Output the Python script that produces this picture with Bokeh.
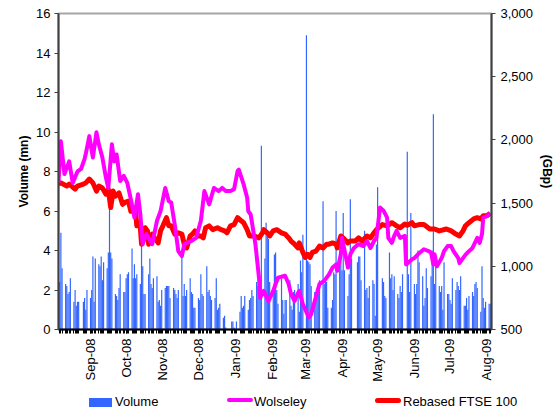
import math
import pandas as pd
from bokeh.plotting import figure
from bokeh.layouts import column
from bokeh.models import (Range1d, LinearAxis, FixedTicker, NumeralTickFormatter,
                          DatetimeTickFormatter, Div)
from bokeh.embed import file_html
from bokeh.resources import INLINE

# ---------------- data ----------------
# Daily traded volume (mn shares), per month of trading days
vol_aug08 = [2.4, 4.9, 3.1, 2.3, 2.2, 1.8, 1.9, 2.6, 1.4, 2.0, 1.2, 1.4, 1.4, 1.4, 1.6, 1.0, 2.0]
vol_sep08 = [1.6, 2.0, 3.7, 1.4, 3.6, 3.3, 3.2, 3.7, 2.5, 3.4, 3.1, 3.9, 6.1, 3.9, 3.6, 1.8, 1.7, 1.5, 2.1, 2.8, 1.9, 1.9]
vol_oct08 = [2.6, 2.8, 2.9, 4.1, 2.6, 3.3, 2.6, 2.8, 2.3, 5.0, 3.2, 1.8, 1.8, 2.8, 3.6, 2.3, 2.1, 2.6, 2.7, 1.4, 1.5, 1.2, 2.0]
vol_nov08 = [2.1, 2.2, 2.2, 2.2, 1.6, 2.1, 2.0, 1.8, 1.6, 2.0, 3.9, 1.7, 2.3, 1.7, 2.0, 2.6, 1.9, 1.8, 1.1, 1.1]
vol_dec08 = [1.6, 1.5, 2.8, 1.8, 1.7, 3.2, 1.9, 2.0, 1.7, 1.5, 1.6, 2.6, 1.0, 1.1, 1.3, 0.6, 0.7, 0.1, 0.4, 0.4, 0.1]
vol_jan09 = [0.4, 0.9, 1.7, 1.1, 1.2, 1.7, 1.0, 1.5, 1.6, 2.0, 1.7, 2.4, 2.2, 2.4, 2.2, 9.3, 3.6, 5.4, 4.7, 4.6, 2.4]
vol_feb09 = [1.9, 3.8, 3.9, 2.0, 1.3, 2.6, 1.5, 0.8, 1.5, 1.5, 2.5, 1.2, 1.0, 1.9, 2.0, 2.3, 0.9, 3.5, 2.9, 4.8]
vol_mar09 = [14.9, 3.5, 3.4, 3.3, 2.2, 1.9, 1.6, 2.0, 2.1, 2.5, 6.5, 2.3, 2.6, 2.4, 1.1, 1.1, 1.5, 2.9, 2.8, 6.0, 3.6, 4.8]
vol_apr09 = [3.0, 5.9, 3.0, 1.7, 2.8, 6.6, 3.6, 3.4, 3.7, 3.7, 2.5, 5.0, 2.0, 2.1, 1.6, 2.2, 2.5, 2.3, 0.7, 4.3]
vol_may09 = [7.2, 2.6, 2.4, 1.7, 1.6, 3.9, 2.6, 2.8, 2.0, 2.7, 1.8, 1.6, 2.2, 1.9, 2.8, 9.0, 2.8, 1.9, 5.9]
vol_jun09 = [2.3, 1.8, 2.3, 4.0, 3.4, 2.7, 1.2, 1.6, 3.1, 2.1, 2.7, 4.0, 10.9, 2.3, 3.2, 2.2, 1.9, 2.2, 1.0, 3.4, 1.8, 1.8]
vol_jul09 = [1.5, 1.3, 2.6, 2.0, 2.4, 2.2, 2.0, 2.7, 1.2, 1.2, 1.6, 1.0, 1.7, 1.9, 1.7, 2.3, 2.4, 2.1, 0.9, 3.2, 1.6, 1.1, 1.4]
vol_aug09 = [1.3, 1.3]

# UK market holidays in the period
holidays = ["2008-08-25", "2008-12-25", "2008-12-26", "2009-01-01",
            "2009-04-10", "2009-04-13", "2009-05-04", "2009-05-25"]

# Wolseley share price (GBp)
wol_dates = ["2008-08-05", "2008-08-07", "2008-08-10", "2008-08-14", "2008-08-17", "2008-08-21", "2008-08-24",
             "2008-08-27", "2008-08-28", "2008-08-31", "2008-09-03", "2008-09-06", "2008-09-08", "2008-09-11",
             "2008-09-14", "2008-09-16", "2008-09-19", "2008-09-21", "2008-09-23", "2008-09-26", "2008-09-29",
             "2008-10-02", "2008-10-05", "2008-10-08", "2008-10-11", "2008-10-13", "2008-10-15", "2008-10-18",
             "2008-10-23", "2008-10-27", "2008-10-30", "2008-11-03", "2008-11-06", "2008-11-08", "2008-11-11",
             "2008-11-14", "2008-11-17", "2008-11-19", "2008-11-25", "2008-11-29", "2008-12-03", "2008-12-06",
             "2008-12-10", "2008-12-14", "2008-12-18", "2008-12-21", "2008-12-24", "2008-12-28", "2008-12-31",
             "2009-01-03", "2009-01-04", "2009-01-08", "2009-01-11", "2009-01-12", "2009-01-14", "2009-01-18",
             "2009-01-21", "2009-01-22", "2009-01-25", "2009-01-29", "2009-02-02", "2009-02-04", "2009-02-06",
             "2009-02-12", "2009-02-15", "2009-02-17", "2009-02-20", "2009-02-23", "2009-02-24", "2009-02-27",
             "2009-03-04", "2009-03-06", "2009-03-09", "2009-03-13", "2009-03-17", "2009-03-21", "2009-03-24",
             "2009-03-27", "2009-03-28", "2009-03-31", "2009-04-01", "2009-04-06", "2009-04-08", "2009-04-11",
             "2009-04-15", "2009-04-19", "2009-04-22", "2009-04-25", "2009-04-28", "2009-04-30", "2009-05-03",
             "2009-05-06", "2009-05-09", "2009-05-10", "2009-05-13", "2009-05-15", "2009-05-17", "2009-05-20",
             "2009-05-24", "2009-05-25", "2009-05-30", "2009-06-01", "2009-06-04", "2009-06-09", "2009-06-13",
             "2009-06-15", "2009-06-17", "2009-06-18", "2009-06-20", "2009-06-24", "2009-06-26", "2009-06-29",
             "2009-07-02", "2009-07-04", "2009-07-08", "2009-07-09", "2009-07-12", "2009-07-14", "2009-07-17",
             "2009-07-20", "2009-07-22", "2009-07-24", "2009-07-26", "2009-07-28", "2009-07-29", "2009-08-02",
             "2009-08-04"]
wol_px = [1660, 1990, 1730, 1830, 1660, 1750, 1770,
          1850, 1890, 2030, 1860, 2060, 1965, 1860,
          1700, 1620, 1965, 1830, 1885, 1675, 1715,
          1660, 1530, 1385, 1570, 1410, 1175, 1255,
          1175, 1360, 1435, 1620, 1515, 1505, 1330,
          1120, 1080, 1175, 1200, 1225, 1360, 1595,
          1490, 1620, 1595, 1620, 1595, 1595, 1610,
          1755, 1765, 1650, 1545, 1435, 1410, 1175,
          910, 750, 805, 725, 805, 860, 910,
          925, 860, 780, 725, 790, 805, 700,
          595, 620, 725, 860, 885, 935, 990,
          1015, 965, 1095, 1225, 990, 1095, 1145,
          1175, 1160, 1200, 1145, 1200, 1225, 1465,
          1440, 1385, 1225, 1185, 1240, 1280, 1225,
          1240, 1015, 1055, 1065, 1095, 1135, 1120,
          1110, 1015, 1095, 1000, 1065, 1120, 1160,
          1160, 1120, 1065, 1025, 1065, 1090, 1120,
          1145, 1185, 1225, 1185, 1255, 1385, 1400,
          1420]

# FTSE 100 rebased to Wolseley (GBp)
ftse_dates = ["2008-08-05", "2008-08-07", "2008-08-12", "2008-08-14", "2008-08-19", "2008-08-21", "2008-08-26",
              "2008-08-28", "2008-08-31", "2008-09-03", "2008-09-06", "2008-09-08", "2008-09-11", "2008-09-14",
              "2008-09-16", "2008-09-18", "2008-09-20", "2008-09-22", "2008-09-25", "2008-09-28", "2008-09-30",
              "2008-10-03", "2008-10-05", "2008-10-07", "2008-10-09", "2008-10-10", "2008-10-12", "2008-10-13",
              "2008-10-14", "2008-10-17", "2008-10-19", "2008-10-20", "2008-10-23", "2008-10-25", "2008-10-28",
              "2008-10-30", "2008-11-01", "2008-11-04", "2008-11-06", "2008-11-08", "2008-11-11", "2008-11-14",
              "2008-11-17", "2008-11-19", "2008-11-21", "2008-11-24", "2008-11-26", "2008-11-28", "2008-12-01",
              "2008-12-03", "2008-12-05", "2008-12-07", "2008-12-10", "2008-12-13", "2008-12-17", "2008-12-20",
              "2008-12-23", "2008-12-25", "2008-12-28", "2008-12-31", "2009-01-03", "2009-01-06", "2009-01-08",
              "2009-01-11", "2009-01-13", "2009-01-17", "2009-01-21", "2009-01-24", "2009-01-25", "2009-01-28",
              "2009-01-30", "2009-02-02", "2009-02-05", "2009-02-09", "2009-02-12", "2009-02-15", "2009-02-17",
              "2009-02-20", "2009-02-23", "2009-02-24", "2009-02-27", "2009-03-01", "2009-03-03", "2009-03-05",
              "2009-03-07", "2009-03-10", "2009-03-13", "2009-03-16", "2009-03-19", "2009-03-21", "2009-03-24",
              "2009-03-27", "2009-03-28", "2009-03-31", "2009-04-03", "2009-04-06", "2009-04-08", "2009-04-12",
              "2009-04-15", "2009-04-18", "2009-04-22", "2009-04-25", "2009-04-28", "2009-04-30", "2009-05-05",
              "2009-05-09", "2009-05-13", "2009-05-17", "2009-05-20", "2009-05-24", "2009-05-26", "2009-05-30",
              "2009-06-01", "2009-06-05", "2009-06-09", "2009-06-14", "2009-06-18", "2009-06-22", "2009-06-28",
              "2009-07-02", "2009-07-06", "2009-07-09", "2009-07-12", "2009-07-14", "2009-07-17", "2009-07-21",
              "2009-07-24", "2009-07-27", "2009-07-29", "2009-08-01", "2009-08-04"]
ftse_px = [1650, 1660, 1635, 1650, 1610, 1635, 1650,
           1660, 1690, 1660, 1595, 1635, 1620, 1570,
           1610, 1465, 1595, 1555, 1580, 1490, 1505,
           1515, 1435, 1465, 1435, 1320, 1345, 1305,
           1175, 1305, 1280, 1175, 1255, 1225, 1185,
           1280, 1320, 1385, 1320, 1320, 1255, 1265,
           1255, 1175, 1145, 1240, 1255, 1280, 1240,
           1240, 1225, 1305, 1320, 1290, 1305, 1290,
           1280, 1265, 1320, 1330, 1385, 1360, 1345,
           1290, 1240, 1240, 1225, 1265, 1290, 1265,
           1240, 1280, 1290, 1265, 1255, 1225, 1200,
           1175, 1145, 1185, 1110, 1070, 1095, 1070,
           1110, 1120, 1160, 1145, 1175, 1175, 1185,
           1175, 1145, 1240, 1215, 1185, 1200, 1200,
           1225, 1200, 1240, 1225, 1265, 1290, 1330,
           1320, 1345, 1320, 1305, 1335, 1325, 1345,
           1320, 1330, 1330, 1295, 1295, 1280, 1295,
           1280, 1255, 1240, 1280, 1320, 1345, 1375,
           1385, 1375, 1400, 1400, 1420]

month_ticks = ["2008-09-01", "2008-10-01", "2008-11-01", "2008-12-01", "2009-01-01", "2009-02-01",
               "2009-03-01", "2009-04-01", "2009-05-01", "2009-06-01", "2009-07-01", "2009-08-01"]
vol_ticks = [0, 2, 4, 6, 8, 10, 12, 14, 16]
px_ticks = [500, 1000, 1500, 2000, 2500, 3000]
series_names = ["Volume", "Wolseley", "Rebased FTSE 100"]

# ---------------- build ----------------
volume = (vol_aug08 + vol_sep08 + vol_oct08 + vol_nov08 + vol_dec08 + vol_jan09 + vol_feb09 +
          vol_mar09 + vol_apr09 + vol_may09 + vol_jun09 + vol_jul09 + vol_aug09)
days = [d for d in pd.bdate_range("2008-08-06", "2009-08-04") if d.strftime("%Y-%m-%d") not in holidays]
assert len(days) == len(volume), (len(days), len(volume))


def ms(d):
    return pd.Timestamp(d).value // 10**6


FONT = "Liberation Sans"
BLUE, MAGENTA, RED = "#3366FF", "#FF00FF", "#FF0000"

p = figure(width=557, height=390, x_axis_type="datetime", output_backend="svg", toolbar_location=None,
           x_range=Range1d(ms("2008-08-05"), ms("2009-08-05")), y_range=Range1d(0, 16),
           min_border_left=58, min_border_right=60, min_border_top=13, min_border_bottom=61,
           background_fill_color="white", border_fill_color="white")
p.xgrid.visible = False
p.ygrid.visible = False
p.outline_line_color = "#A6A6A6"
p.outline_line_width = 2

p.extra_y_ranges = {"px": Range1d(500, 3000)}

p.vbar(x=days, top=volume, width=1.0 * 86400000, fill_color=BLUE, line_color=None)
p.line(pd.to_datetime(ftse_dates), ftse_px, y_range_name="px", line_color=RED,
       line_width=5, line_join="round")
p.line(pd.to_datetime(wol_dates), wol_px, y_range_name="px", line_color=MAGENTA,
       line_width=4, line_join="round")

# x axis
xa = p.xaxis[0]
xa.ticker = FixedTicker(ticks=[ms(t) for t in month_ticks], minor_ticks=[ms(d) for d in days])
xa.formatter = DatetimeTickFormatter(days="%b-%y", months="%b-%y", years="%b-%y")
xa.major_label_orientation = math.pi / 2
xa.major_label_text_font = FONT
xa.major_label_text_font_size = "13px"
xa.major_label_text_color = "black"
xa.major_label_standoff = 5
xa.axis_line_color = "black"
xa.axis_line_width = 2
xa.major_tick_in = 0
xa.major_tick_out = 4
xa.minor_tick_in = 0
xa.minor_tick_out = 4
xa.major_tick_line_color = "black"
xa.minor_tick_line_color = "black"

# left axis
ya = p.yaxis[0]
ya.ticker = FixedTicker(ticks=vol_ticks)
ya.axis_label = "Volume (mn)"
ya.axis_label_text_font = FONT
ya.axis_label_text_font_style = "bold"
ya.axis_label_text_font_size = "12px"
ya.axis_label_text_color = "black"
ya.axis_label_standoff = 2
ya.major_label_text_font = FONT
ya.major_label_text_font_size = "13px"
ya.major_label_text_color = "black"
ya.major_label_standoff = 4
ya.axis_line_color = "#404040"
ya.axis_line_width = 2
ya.major_tick_in = 0
ya.major_tick_out = 4
ya.major_tick_line_color = "#404040"
ya.minor_tick_line_color = None

# right axis
ra = LinearAxis(y_range_name="px", ticker=FixedTicker(ticks=px_ticks),
                formatter=NumeralTickFormatter(format="0,0"), axis_label="(GBp)")
ra.axis_label_text_font = FONT
ra.axis_label_text_font_style = "bold"
ra.axis_label_text_font_size = "12px"
ra.axis_label_text_color = "black"
ra.axis_label_standoff = 4
ra.major_label_text_font = FONT
ra.major_label_text_font_size = "13px"
ra.major_label_text_color = "black"
ra.major_label_standoff = 5
ra.axis_line_color = "#404040"
ra.axis_line_width = 2
ra.major_tick_in = 0
ra.major_tick_out = 4
ra.major_tick_line_color = "#404040"
ra.minor_tick_line_color = None
p.add_layout(ra, "right")

# ---------------- legend (HTML strip under the chart) ----------------
swatch_style = [
    "left:89px;top:8px;width:23px;height:9px;",                     # bar swatch
    "left:227px;top:8px;width:26px;height:4px;border-radius:2px;",  # line swatch
    "left:375px;top:8px;width:26px;height:5px;border-radius:2.5px;",
]
label_left = [115, 254, 403]
swatch_colors = [BLUE, MAGENTA, RED]
parts = []
for name, col, sw, lx in zip(series_names, swatch_colors, swatch_style, label_left):
    parts.append(f'<div style="position:absolute;{sw}background:{col};"></div>')
    parts.append(f'<div style="position:absolute;left:{lx}px;top:5px;line-height:14px;'
                 f'font-family:\'{FONT}\';font-size:13px;color:#000;white-space:nowrap;">{name}</div>')
legend_html = ('<div style="position:relative;width:557px;height:30px;background:#fff;">'
               + "".join(parts) + "</div>")
legend_div = Div(text=legend_html, width=557, height=30, margin=0)

open("out.html", "w").write(file_html(column(p, legend_div, spacing=0), INLINE))
